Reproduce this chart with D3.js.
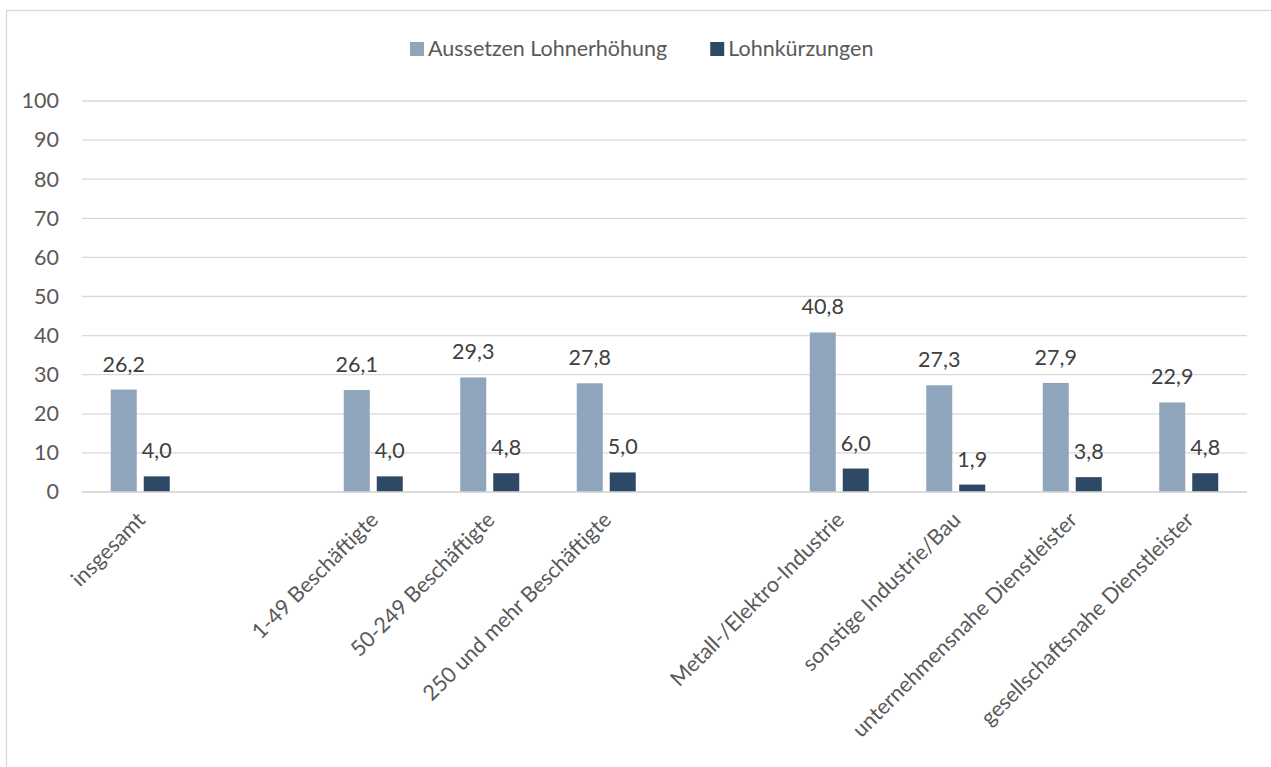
<!DOCTYPE html>
<html>
<head>
<meta charset="utf-8">
<script src="https://cdnjs.cloudflare.com/ajax/libs/d3/7.8.5/d3.min.js"></script>
<style>
  body { margin: 0; background: #fff; }
  svg { display: block; font-family: Lato, "Open Sans", sans-serif; }
</style>
</head>
<body>
<svg width="1271" height="767"></svg>
<script>
// categories ("" = empty slot between groups)
var categories = ["insgesamt", "", "1-49 Beschäftigte", "50-249 Beschäftigte", "250 und mehr Beschäftigte", "",
  "Metall-/Elektro-Industrie", "sonstige Industrie/Bau", "unternehmensnahe Dienstleister", "gesellschaftsnahe Dienstleister"];
var seriesNames = ["Aussetzen Lohnerhöhung", "Lohnkürzungen"];
var aussetzen = [26.2, null, 26.1, 29.3, 27.8, null, 40.8, 27.3, 27.9, 22.9];
var kuerzungen = [4.0, null, 4.0, 4.8, 5.0, null, 6.0, 1.9, 3.8, 4.8];
var yTicks = [0, 10, 20, 30, 40, 50, 60, 70, 80, 90, 100];
var colors = ["#8ea5bb", "#2e4965"];
var fontSize = "21.5px";

var svg = d3.select("svg"),
    margin = {top: 101, right: 24, bottom: 275, left: 82},
    width = 1271 - margin.left - margin.right,
    height = 767 - margin.top - margin.bottom;

// chart area border
svg.append("rect")
    .attr("x", 6.5).attr("y", 10.5)
    .attr("width", 1300).attr("height", 800)
    .attr("fill", "none")
    .attr("stroke", "#d9d9d9")
    .attr("stroke-width", 1.3);

var g = svg.append("g").attr("transform", "translate(" + margin.left + "," + margin.top + ")");

var x0 = d3.scaleBand().domain(d3.range(categories.length)).range([0, width]);
var x1 = d3.scaleBand().domain([0, 1])
    .range([x0.bandwidth() * 0.2468, x0.bandwidth() * 0.7532])
    .paddingInner(0.212);
var y = d3.scaleLinear().domain([0, 100]).range([height, 0]);

// gridlines
g.append("g")
  .selectAll("line")
  .data(yTicks)
  .enter().append("line")
    .attr("x1", 0).attr("x2", width)
    .attr("y1", function(d) { return y(d); })
    .attr("y2", function(d) { return y(d); })
    .attr("stroke", "#d9d9d9")
    .attr("stroke-width", 1.3);

// y axis labels
var yAxis = g.append("g")
    .call(d3.axisLeft(y).tickValues(yTicks).tickSize(0).tickPadding(23));
yAxis.select(".domain").remove();
yAxis.selectAll("text")
    .style("font-size", fontSize)
    .style("font-family", "Lato, sans-serif")
    .attr("fill", "#595959");

// x axis labels
var xAxis = g.append("g")
    .attr("transform", "translate(0," + height + ")")
    .call(d3.axisBottom(x0).tickSize(0).tickFormat(function(i) { return categories[i]; }));
xAxis.select(".domain").remove();
xAxis.selectAll("text")
    .style("font-size", fontSize)
    .style("font-family", "Lato, sans-serif")
    .attr("fill", "#595959")
    .attr("text-anchor", "end")
    .attr("dy", "0.35em")
    .attr("y", 0)
    .attr("transform", "translate(1,24) rotate(-45)");

var rows = categories.map(function(c, i) {
  return {i: i, values: [aussetzen[i], kuerzungen[i]]};
}).filter(function(d) { return d.values[0] != null; });

var group = g.selectAll(".cat")
  .data(rows)
  .enter().append("g")
    .attr("class", "cat")
    .attr("transform", function(d) { return "translate(" + x0(d.i) + ",0)"; });

group.selectAll("rect")
  .data(function(d) { return d.values; })
  .enter().append("rect")
    .attr("x", function(d, k) { return x1(k); })
    .attr("y", function(d) { return y(d); })
    .attr("width", x1.bandwidth())
    .attr("height", function(d) { return height - y(d); })
    .attr("fill", function(d, k) { return colors[k]; });

group.selectAll("text")
  .data(function(d) { return d.values; })
  .enter().append("text")
    .attr("x", function(d, k) { return x1(k) + x1.bandwidth() / 2; })
    .attr("y", function(d) { return y(d) - 18; })
    .attr("text-anchor", "middle")
    .style("font-size", fontSize)
    .attr("fill", "#404040")
    .text(function(d) { return d.toFixed(1).replace(".", ","); });

// axis line
g.append("line")
    .attr("x1", 0).attr("x2", width)
    .attr("y1", height).attr("y2", height)
    .attr("stroke", "#d9d9d9")
    .attr("stroke-width", 1.3);

// legend
var legend = svg.append("g").attr("transform", "translate(410,42)");
var lx = 0;
seriesNames.forEach(function(name, k) {
  var item = legend.append("g").attr("transform", "translate(" + lx + ",0)");
  item.append("rect").attr("width", 14).attr("height", 14).attr("fill", colors[k]);
  var t = item.append("text")
      .attr("x", 18).attr("y", 14)
      .style("font-size", fontSize)
      .attr("fill", "#595959")
      .text(name);
  lx += 18 + t.node().getComputedTextLength() + 43;
});
</script>
</body>
</html>
